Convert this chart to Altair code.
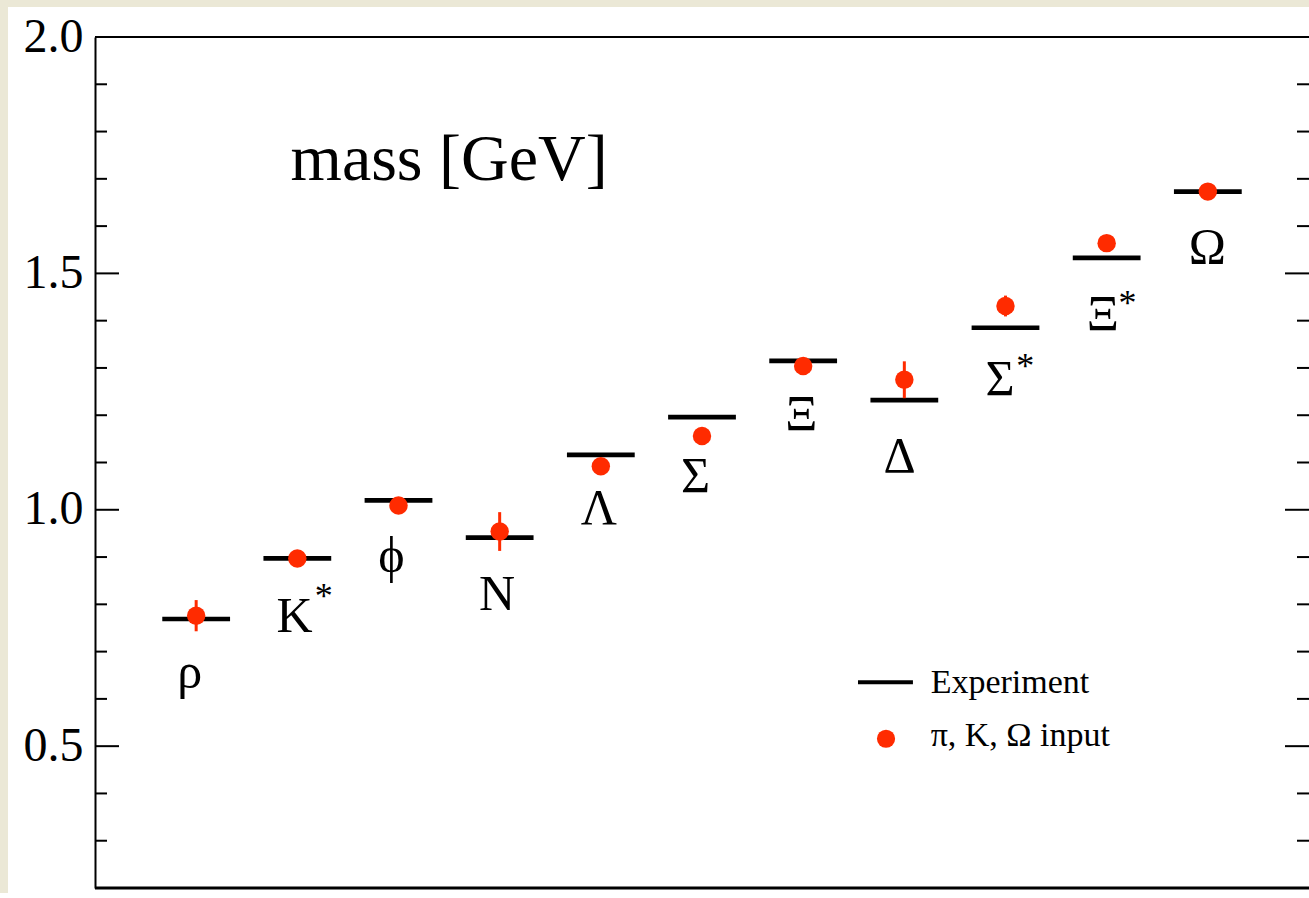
import altair as alt
import pandas as pd

# Hadron spectrum: experimental masses vs. lattice results (GeV)
particles = ["ρ", "K*", "ϕ", "N", "Λ", "Σ", "Ξ", "Δ", "Σ*", "Ξ*", "Ω"]
experiment = [0.769, 0.897, 1.020, 0.941, 1.116, 1.196, 1.315, 1.232, 1.385, 1.533, 1.673]
lattice = [0.776, 0.897, 1.009, 0.954, 1.092, 1.156, 1.304, 1.275, 1.431, 1.564, 1.673]
lattice_err = [0.033, 0.010, 0.012, 0.041, 0.012, 0.012, 0.010, 0.039, 0.022, 0.012, 0.0]

# particle name placement (x in slot units, y = text baseline in GeV)
label_x = [0.937, 1.972, 2.929, 3.974, 4.980, 5.937, 6.982, 7.954, 8.945, 9.961, 10.996]
label_y = [0.623, 0.742, 0.869, 0.788, 0.970, 1.038, 1.169, 1.080, 1.243, 1.380, 1.522]
star_x = [2.262, 9.196, 10.205]
star_y = [0.792, 1.278, 1.411]

minor_ticks = [0.3, 0.4, 0.6, 0.7, 0.8, 0.9, 1.1, 1.2, 1.3, 1.4, 1.6, 1.7, 1.8, 1.9]
major_ticks = [0.5, 1.0, 1.5]
axis_labels = [0.5, 1.0, 1.5, 2.0]

legend_labels = ["Experiment", "π, K, Ω input"]

W, H = 1214, 851
RED = "#ff2b00"
SERIF = "Liberation Serif"

xs = alt.Scale(domain=[0, 12], nice=False, zero=False)
ys = alt.Scale(domain=[0.2, 2.0], nice=False, zero=False)

data = pd.DataFrame({
    "idx": list(range(1, len(particles) + 1)),
    "name": [p.rstrip("*") for p in particles],
    "exp": experiment,
    "lat": lattice,
    "err": lattice_err,
    "lx": label_x,
    "ly": label_y,
})
stars = pd.DataFrame({"sx": star_x, "sy": star_y, "t": ["*"] * len(star_x)})
minor = pd.DataFrame({"v": minor_ticks})
major = pd.DataFrame({"v": major_ticks})
one = pd.DataFrame({"a": [0]})

# white panel behind the plot and its labels
panel = alt.Chart(one).mark_rect(color="white").encode(
    x=alt.value(-87), x2=alt.value(W + 5), y=alt.value(-30), y2=alt.value(H + 20)
)

# frame: left axis carries the labels, top/bottom drawn as rules
yaxis = alt.Axis(
    values=axis_labels, format=".1f", labelFont=SERIF, labelFontSize=48,
    labelColor="black", ticks=False, grid=False, domain=True, domainColor="black",
    domainWidth=2, labelPadding=12, title=None, zindex=1,
)
top_line = alt.Chart(one).mark_rule(color="black", strokeWidth=2).encode(
    y=alt.Y("v:Q", scale=ys, axis=yaxis), x=alt.value(0), x2=alt.value(W)
).transform_calculate(v="2.0")
bottom_line = alt.Chart(one).mark_rule(color="black", strokeWidth=3).encode(
    y=alt.Y("v:Q", scale=ys), x=alt.value(0), x2=alt.value(W)
).transform_calculate(v="0.2")

def ticks(df, x0, x1):
    return alt.Chart(df).mark_rule(color="black", strokeWidth=2).encode(
        y=alt.Y("v:Q", scale=ys), x=alt.value(x0), x2=alt.value(x1)
    )

tick_layers = [
    ticks(minor, 0, 12), ticks(major, 0, 24),
    ticks(minor, W - 12, W), ticks(major, W - 24, W),
]

base = alt.Chart(data)

exp_lines = base.mark_rule(color="black", strokeWidth=4.7, strokeCap="butt").transform_calculate(
    x0="datum.idx - 0.335", x1="datum.idx + 0.335"
).encode(
    x=alt.X("x0:Q", scale=xs, axis=None), x2="x1:Q", y=alt.Y("exp:Q", scale=ys)
)

err_bars = base.mark_rule(color=RED, strokeWidth=3).transform_calculate(
    lo="datum.lat - datum.err", hi="datum.lat + datum.err"
).encode(
    x=alt.X("idx:Q", scale=xs), y=alt.Y("lo:Q", scale=ys), y2="hi:Q"
)

points = base.mark_circle(color=RED, size=340, opacity=1).encode(
    x=alt.X("idx:Q", scale=xs), y=alt.Y("lat:Q", scale=ys)
)

names = base.mark_text(font=SERIF, fontSize=50, align="center", baseline="alphabetic",
                       color="black").encode(
    x=alt.X("lx:Q", scale=xs), y=alt.Y("ly:Q", scale=ys), text="name:N"
)

star_marks = alt.Chart(stars).mark_text(font=SERIF, fontSize=36, align="center",
                                        baseline="alphabetic", color="black").encode(
    x=alt.X("sx:Q", scale=xs), y=alt.Y("sy:Q", scale=ys), text="t:N"
)

title = alt.Chart(pd.DataFrame({"tx": [3.5], "ty": [1.698], "t": ["mass [GeV]"]})).mark_text(
    font=SERIF, fontSize=66, align="center", baseline="alphabetic", color="black"
).encode(x=alt.X("tx:Q", scale=xs), y=alt.Y("ty:Q", scale=ys), text="t:N")

# legend
leg_line = alt.Chart(pd.DataFrame({"a": [7.542], "b": [8.085], "y": [0.635]})).mark_rule(
    color="black", strokeWidth=4, strokeCap="butt"
).encode(x=alt.X("a:Q", scale=xs), x2="b:Q", y=alt.Y("y:Q", scale=ys))
leg_dot = alt.Chart(pd.DataFrame({"x": [7.819], "y": [0.5156]})).mark_circle(
    color=RED, size=330, opacity=1
).encode(x=alt.X("x:Q", scale=xs), y=alt.Y("y:Q", scale=ys))
leg_text = alt.Chart(pd.DataFrame({"x": [8.26, 8.26], "y": [0.612, 0.4993],
                                   "t": legend_labels})).mark_text(
    font=SERIF, fontSize=34, align="left", baseline="alphabetic", color="black"
).encode(x=alt.X("x:Q", scale=xs), y=alt.Y("y:Q", scale=ys), text="t:N")

chart = alt.layer(
    panel, top_line, bottom_line, *tick_layers, exp_lines, err_bars, points,
    names, star_marks, title, leg_line, leg_dot, leg_text,
).properties(
    width=W, height=H, background="#ebe8d6",
    padding={"left": 95, "top": 37, "right": 0, "bottom": 5},
    autosize=alt.AutoSizeParams(type="none"),
).configure_view(stroke=None)

chart.save("out.html", embed_options={"renderer": "svg", "actions": False})
